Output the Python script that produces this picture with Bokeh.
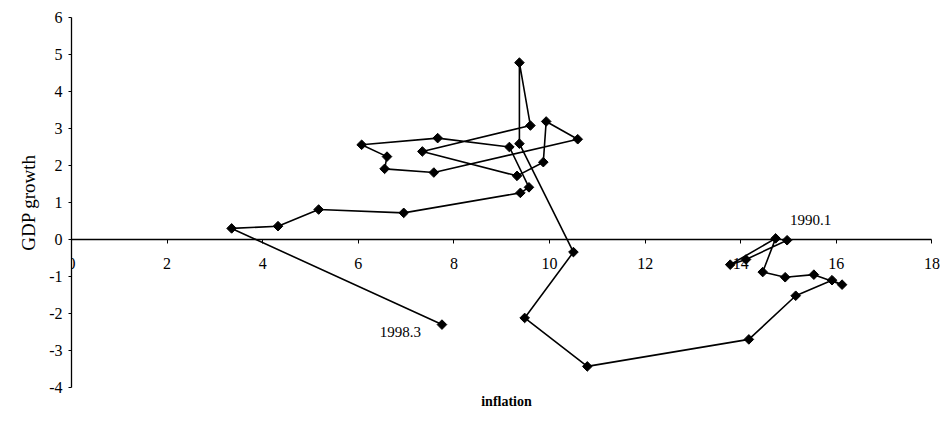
from bokeh.plotting import figure
from bokeh.models import (LinearAxis, FixedTicker, Label, ColumnDataSource, Range1d,
                          CustomJSTickFormatter)
from bokeh.embed import file_html
from bokeh.resources import INLINE

# Quarterly path 1990.1 -> 1998.3 (inflation, GDP growth)
inflation = [14.97, 14.11, 13.78, 14.73, 14.46, 14.93, 15.53, 16.12, 15.91, 15.15,
             14.17, 10.79, 9.48, 10.50, 9.37, 9.37, 9.60, 7.34, 9.32, 9.87,
             9.93, 10.59, 7.58, 6.55, 6.60, 6.07, 7.66, 9.16, 9.57, 9.39,
             6.95, 5.17, 4.32, 3.35, 7.75]
gdp_growth = [-0.02, -0.54, -0.68, 0.03, -0.88, -1.02, -0.95, -1.22, -1.10, -1.52,
              -2.70, -3.43, -2.12, -0.34, 2.59, 4.78, 3.08, 2.38, 1.72, 2.09,
              3.19, 2.71, 1.81, 1.91, 2.24, 2.56, 2.74, 2.50, 1.41, 1.26,
              0.72, 0.81, 0.36, 0.30, -2.30]
x_ticks = [0, 2, 4, 6, 8, 10, 12, 14, 16, 18]
y_ticks = [-4, -3, -2, -1, 0, 1, 2, 3, 4, 5, 6]
start_label = "1990.1"
end_label = "1998.3"

FONT = "Liberation Serif"

src = ColumnDataSource(dict(x=inflation, y=gdp_growth))

p = figure(width=941, height=417, output_backend="svg", toolbar_location=None,
           x_range=Range1d(0, 18.2), y_range=Range1d(-4, 6),
           min_border_left=71, min_border_right=0, min_border_top=17, min_border_bottom=30,
           background_fill_color="white", border_fill_color="white")
p.outline_line_color = None
p.grid.visible = False

plain = CustomJSTickFormatter(code="return tick.toString();")

# x axis crossing at y = 0
xa = p.xaxis[0]
xa.fixed_location = 0
xa.bounds = (0, 18)
xa.ticker = FixedTicker(ticks=x_ticks)
xa.formatter = plain
xa.axis_line_color = "black"
xa.axis_line_width = 1.3
xa.major_tick_line_color = "black"
xa.major_tick_out = 4
xa.major_tick_in = 0
xa.minor_tick_line_color = None
xa.major_label_standoff = 14
xa.major_label_text_font = FONT
xa.major_label_text_font_size = "16px"
xa.major_label_text_color = "black"

# separate bottom axis only carrying the title
ta = LinearAxis(axis_label="inflation", axis_line_color=None,
                ticker=FixedTicker(ticks=[]),
                major_tick_line_color=None, minor_tick_line_color=None,
                major_label_standoff=0, axis_label_standoff=6,
                axis_label_text_font=FONT, axis_label_text_font_size="14px",
                axis_label_text_font_style="bold", axis_label_text_color="black")
p.add_layout(ta, "below")

ya = p.yaxis[0]
ya.ticker = FixedTicker(ticks=y_ticks)
ya.formatter = plain
ya.axis_line_color = "black"
ya.axis_line_width = 1.3
ya.major_tick_line_color = "black"
ya.major_tick_out = 3
ya.major_tick_in = 0
ya.minor_tick_line_color = None
ya.major_label_standoff = 6
ya.major_label_text_font = FONT
ya.major_label_text_font_size = "16px"
ya.major_label_text_color = "black"
ya.axis_label = "GDP growth"
ya.axis_label_text_font = FONT
ya.axis_label_text_font_size = "19px"
ya.axis_label_text_font_style = "normal"
ya.axis_label_text_color = "black"
ya.axis_label_standoff = 7

p.line("x", "y", source=src, line_color="black", line_width=1.6)
p.scatter("x", "y", source=src, marker="square", angle=0.785398, size=6.8,
          fill_color="black", line_color="black")

p.add_layout(Label(x=inflation[0], y=0.4, text=start_label, text_font=FONT,
                   text_font_size="15px", text_color="black", x_offset=3,
                   text_baseline="bottom", text_align="left"))
p.add_layout(Label(x=inflation[-1], y=gdp_growth[-1], text=end_label, text_font=FONT,
                   text_font_size="15px", text_color="black", x_offset=-21, y_offset=-2,
                   text_baseline="top", text_align="right"))

open("out.html", "w").write(file_html(p, INLINE))
